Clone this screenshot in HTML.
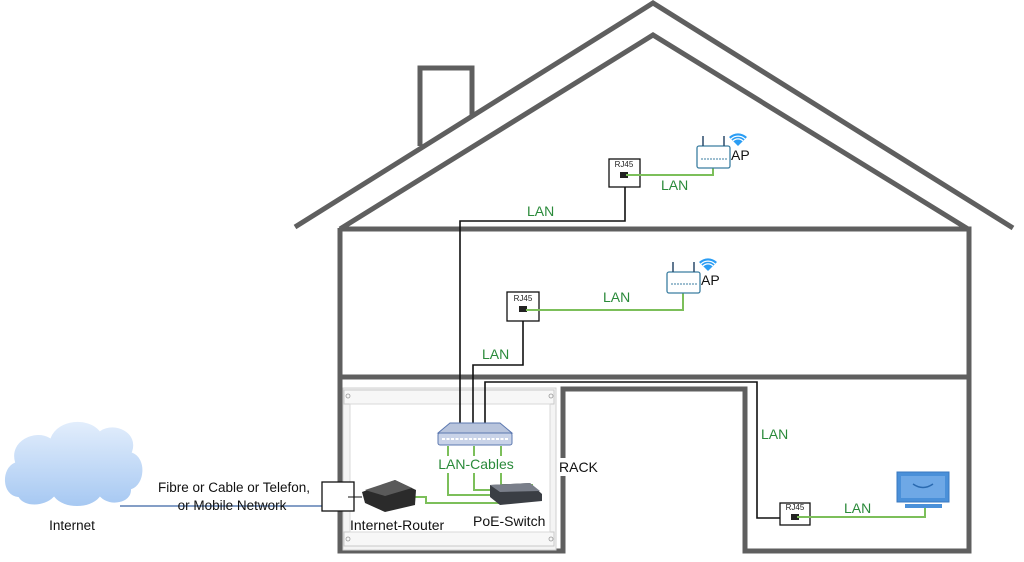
<!DOCTYPE html>
<html><head><meta charset="utf-8"><style>
html,body{margin:0;padding:0;background:#fff;}
svg{display:block;}
text{font-family:"Liberation Sans",sans-serif;}
</style></head><body>
<svg width="1024" height="562" viewBox="0 0 1024 562" xmlns="http://www.w3.org/2000/svg">
<g stroke="#5f5f5f" stroke-width="5" fill="none" stroke-linejoin="miter">
<polyline points="295,227 653,3 1013,228"/>
<polyline points="340,229 653,35 968,229"/>
<polyline points="420,146 420,68 472,68 472,115"/>
<polyline points="340,228 340,551 563,551 563,389 745,389 745,551 969,551 969,229 340,229"/>
<line x1="340" y1="377" x2="969" y2="377"/>
</g>
<!-- rack -->
<rect x="343" y="388" width="213" height="162" fill="#f4f4f4" stroke="#cfcfcf"/>
<rect x="344" y="390" width="210" height="14" fill="#f7f7f7" stroke="#c8c8c8"/>
<rect x="344" y="532" width="210" height="14" fill="#f7f7f7" stroke="#c8c8c8"/>
<rect x="350" y="404" width="200" height="128" fill="#fff" stroke="#d8d8d8"/>
<g fill="none" stroke="#999" stroke-width="0.8"><circle cx="348" cy="396" r="2"/><circle cx="551" cy="396" r="2"/><circle cx="348" cy="539" r="2"/><circle cx="551" cy="539" r="2"/></g>
<!-- black cables -->
<g stroke="#111" stroke-width="1.6" fill="none">
<polyline points="460,423 460,221 625,221 625,187"/>
<polyline points="473,423 473,365 523,365 523,321"/>
<polyline points="485,423 485,382 757,382 757,518 780,518"/>
</g>
<!-- switch (top) -->
<polygon points="450,423 500,423 512,433 438,433" fill="#b8c4dc" stroke="#5c78b0" stroke-width="1"/>
<rect x="438" y="433" width="74" height="12" rx="2" fill="#c9d3e8" stroke="#5c78b0"/>
<line x1="442" y1="439" x2="508" y2="439" stroke="#fff" stroke-width="2" stroke-dasharray="3,1.5"/>
<!-- green cables in rack -->
<g stroke="#7cbf5a" stroke-width="2" fill="none">
<line x1="448" y1="446" x2="448" y2="456"/><line x1="474" y1="446" x2="474" y2="456"/><line x1="501" y1="446" x2="501" y2="456"/>
<polyline points="448,473 448,495 515,495"/>
<polyline points="474,473 474,490 520,490"/>
<polyline points="501,473 501,485 533,485"/>
<polyline points="410,497 426,497 426,503 505,503"/>
</g>
<text x="476" y="469" font-size="14" fill="#2a8a3a" text-anchor="middle">LAN-Cables</text>
<!-- router -->
<polygon points="362,492 395,480 416,490 415,505 385,512 365,503" fill="#2b2b2b"/>
<polygon points="365,490 395,480 412,488 385,496" fill="#5a5a5a"/>
<!-- poe switch -->
<polygon points="490,485 530,483 542,494 542,501 500,505 490,497" fill="#3a3e44"/>
<polygon points="490,485 530,483 540,491 500,492" fill="#7a7f8a"/>
<text x="350" y="530" font-size="14" fill="#111">Internet-Router</text>
<text x="473" y="526" font-size="14" fill="#111">PoE-Switch</text>
<rect x="558" y="458" width="48" height="18" fill="#fff"/>
<text x="559" y="472" font-size="14" fill="#111">RACK</text>
<!-- entry box -->
<line x1="120" y1="506" x2="322" y2="506" stroke="#5b7fb3" stroke-width="1.5"/>
<rect x="322" y="482" width="32" height="29" fill="#fff" stroke="#111" stroke-width="1.3"/>
<line x1="348" y1="497" x2="362" y2="497" stroke="#111" stroke-width="1"/>
<text x="234" y="492" font-size="13.5" fill="#111" text-anchor="middle">Fibre or Cable or Telefon,</text>
<text x="232" y="510" font-size="13.5" fill="#111" text-anchor="middle">or Mobile Network</text>
<!-- cloud -->
<defs><linearGradient id="cg" x1="0" y1="0" x2="0" y2="1"><stop offset="0" stop-color="#e3eefc"/><stop offset="1" stop-color="#a6c8f2"/></linearGradient></defs>
<path d="M18,498 C0,496 0,468 14,462 C8,440 35,428 50,437 C58,418 88,416 100,430 C115,420 140,432 133,452 C148,458 146,485 132,490 C132,504 110,508 100,498 C90,510 64,510 54,498 C44,508 24,508 18,498 Z" fill="url(#cg)" stroke="#fff" stroke-width="2"/>
<text x="72" y="530" font-size="13.5" fill="#111" text-anchor="middle">Internet</text>
<!-- RJ45 boxes -->
<g stroke="#111" stroke-width="1.3" fill="#fff">
<rect x="609" y="159" width="31" height="28"/>
<rect x="507" y="292" width="32" height="29"/>
<rect x="780" y="503" width="30" height="22"/>
</g>
<g font-size="8" fill="#222" text-anchor="middle">
<text x="624" y="167">RJ45</text><text x="523" y="301">RJ45</text><text x="795" y="510">RJ45</text>
</g>
<g fill="#222"><rect x="620" y="172" width="8" height="6"/><rect x="519" y="306" width="8" height="6"/><rect x="791" y="514" width="8" height="6"/></g>
<!-- green lines to devices -->
<g stroke="#7cbf5a" stroke-width="2" fill="none">
<polyline points="626,175 713,175 713,166"/>
<polyline points="526,310 683,310 683,292"/>
<polyline points="797,517 925,517 925,505"/>
</g>
<!-- APs -->
<g fill="#fff" stroke="#3b7ea1" stroke-width="1.3">
<rect x="697" y="146" width="33" height="22" rx="2"/>
<rect x="667" y="272" width="33" height="21" rx="2"/>
</g>
<g stroke="#2a4a6a" stroke-width="1.5"><line x1="703" y1="136" x2="703" y2="146"/><line x1="724" y1="136" x2="724" y2="146"/><line x1="673" y1="262" x2="673" y2="272"/><line x1="694" y1="262" x2="694" y2="272"/></g>
<g stroke="#3b7ea1" stroke-width="1" fill="none" stroke-dasharray="2,1"><line x1="701" y1="159" x2="727" y2="159"/><line x1="671" y1="284" x2="697" y2="284"/></g>
<!-- wifi wedges -->
<g fill="#2a9df4">
<path d="M738,146 L729,137 A13,13 0 0 1 747,137 Z"/>
<path d="M708,271 L699,262 A13,13 0 0 1 717,262 Z"/>
</g>
<g fill="none" stroke="#fff" stroke-width="1.2">
<path d="M733,141 A7,7 0 0 1 743,141"/><path d="M731,139 A10,10 0 0 1 745,139"/>
<path d="M703,266 A7,7 0 0 1 713,266"/><path d="M701,264 A10,10 0 0 1 715,264"/>
</g>
<text x="731" y="160" font-size="14" fill="#111">AP</text>
<text x="701" y="285" font-size="14" fill="#111">AP</text>
<!-- TV -->
<rect x="897" y="472" width="52" height="30" fill="#4a90d9" stroke="#3a78c0"/>
<rect x="901" y="476" width="44" height="22" fill="#6ea8e6"/>
<path d="M913,484 Q923,491 933,484" stroke="#2a6ab0" stroke-width="1.5" fill="none"/>
<rect x="905" y="504" width="37" height="4" fill="#4a90d9"/>
<!-- LAN labels -->
<g font-size="14" fill="#2a8a3a">
<text x="527" y="216">LAN</text><text x="661" y="190">LAN</text>
<text x="603" y="302">LAN</text><text x="482" y="359">LAN</text>
<text x="761" y="439">LAN</text><text x="844" y="513">LAN</text>
</g>
</svg>
</body></html>
